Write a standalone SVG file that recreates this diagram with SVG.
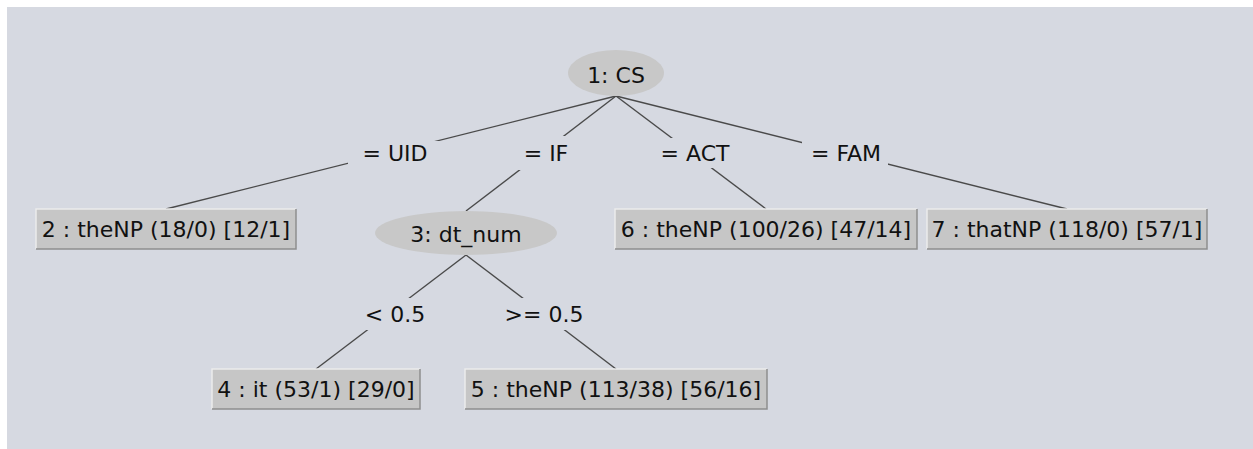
<svg xmlns="http://www.w3.org/2000/svg" width="1253" height="449" viewBox="0 0 1253 449">
  <style>
    .panel { fill: #d6d9e1; }
    .edge { stroke: #4a4a4a; stroke-width: 1.4; fill: none; }
    .lblbg { fill: #d6d9e1; }
    .txt { font-family: "DejaVu Sans", sans-serif; font-size: 22px; fill: #111; text-anchor: middle; }
    .split { fill: #c8c8c8; }
    .leaf { fill: #c6c6c6; }
    .hi { stroke: #ececec; stroke-width: 1.5; fill: none; }
    .lo { stroke: #8e8e8e; stroke-width: 1.5; fill: none; }
  </style>

  <rect x="0" y="0" width="1253" height="449" fill="#ffffff"/>
  <rect class="panel" x="7" y="7" width="1246" height="442"/>

  <!-- tree edges, with their value labels on a background patch -->
  <g id="connectors">
    <line class="edge" x1="616" y1="96" x2="166" y2="209"/>
    <line class="edge" x1="616" y1="96" x2="466" y2="211"/>
    <line class="edge" x1="616" y1="96" x2="766" y2="209"/>
    <line class="edge" x1="616" y1="96" x2="1067" y2="209"/>
    <line class="edge" x1="466" y1="255" x2="316" y2="369"/>
    <line class="edge" x1="466" y1="255" x2="616" y2="369"/>

    <rect class="lblbg" x="348" y="141" width="92" height="25"/>
    <text class="txt" x="395" y="161">= UID</text>
    <rect class="lblbg" x="513" y="136" width="62" height="34"/>
    <text class="txt" x="546" y="161">= IF</text>
    <rect class="lblbg" x="651" y="138" width="88" height="30"/>
    <text class="txt" x="695" y="161">= ACT</text>
    <rect class="lblbg" x="802" y="138" width="86" height="30"/>
    <text class="txt" x="846" y="161">= FAM</text>
    <rect class="lblbg" x="356" y="298" width="74" height="32"/>
    <text class="txt" x="395" y="322">&lt; 0.5</text>
    <rect class="lblbg" x="498" y="298" width="92" height="32"/>
    <text class="txt" x="544" y="322">&gt;= 0.5</text>
  </g>

  <g id="node1">
    <ellipse class="split" cx="616" cy="73" rx="48" ry="23"/>
    <text class="txt" x="616" y="83">1: CS</text>
  </g>

  <g id="node2">
    <rect class="leaf" x="36" y="209" width="260" height="40"/>
    <polyline class="hi" points="36,249 36,209 296,209"/>
    <polyline class="lo" points="36,249 296,249 296,209"/>
    <text class="txt" x="166" y="237">2 : theNP (18/0) [12/1]</text>
  </g>

  <g id="node3">
    <ellipse class="split" cx="466" cy="233" rx="91" ry="22"/>
    <text class="txt" x="466" y="242">3: dt_num</text>
  </g>

  <g id="node4">
    <rect class="leaf" x="212" y="369" width="208" height="40"/>
    <polyline class="hi" points="212,409 212,369 420,369"/>
    <polyline class="lo" points="212,409 420,409 420,369"/>
    <text class="txt" x="316" y="397">4 : it (53/1) [29/0]</text>
  </g>

  <g id="node5">
    <rect class="leaf" x="465" y="369" width="302" height="40"/>
    <polyline class="hi" points="465,409 465,369 767,369"/>
    <polyline class="lo" points="465,409 767,409 767,369"/>
    <text class="txt" x="616" y="397">5 : theNP (113/38) [56/16]</text>
  </g>

  <g id="node6">
    <rect class="leaf" x="615" y="209" width="302" height="40"/>
    <polyline class="hi" points="615,249 615,209 917,209"/>
    <polyline class="lo" points="615,249 917,249 917,209"/>
    <text class="txt" x="766" y="237">6 : theNP (100/26) [47/14]</text>
  </g>

  <g id="node7">
    <rect class="leaf" x="927" y="209" width="280" height="40"/>
    <polyline class="hi" points="927,249 927,209 1207,209"/>
    <polyline class="lo" points="927,249 1207,249 1207,209"/>
    <text class="txt" x="1067" y="237">7 : thatNP (118/0) [57/1]</text>
  </g>
</svg>
